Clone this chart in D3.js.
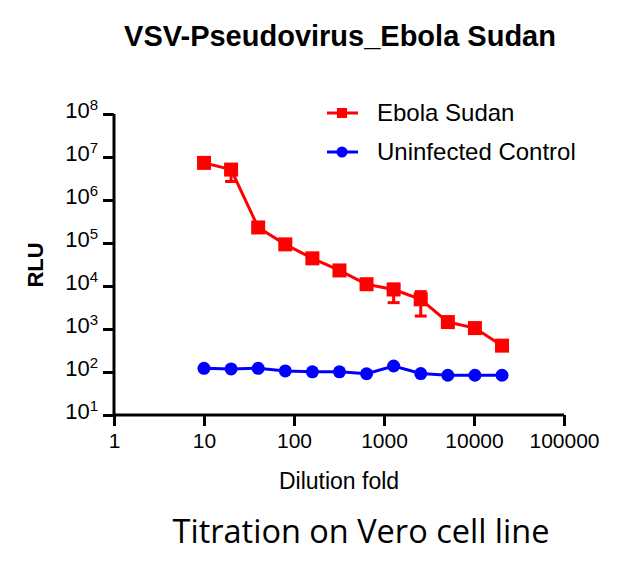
<!DOCTYPE html>
<html>
<head>
<meta charset="utf-8">
<script src="https://cdn.jsdelivr.net/npm/d3@7"></script>
<style>
  html, body { margin: 0; padding: 0; background: #fff; }
  svg { display: block; }
</style>
</head>
<body>
<svg id="chart" width="636" height="577"></svg>
<script>
// ---- data ----
const dilutions = [10, 20, 40, 80, 160, 320, 640, 1280, 2560, 5120, 10240, 20480];
const ebolaSudan = [7300000, 5100000, 230000, 93000, 44000, 23000, 11000, 8300, 4900, 1450, 1050, 410];
const ebolaErrLow = [6600000, 2700000, 210000, 86000, 40000, 21000, 10000, 4100, 2000, 1250, 950, 380];
const ebolaErrHigh = [8000000, 6600000, 250000, 100000, 48000, 25000, 12000, 11000, 7400, 1650, 1150, 440];
const uninfected = [122, 118, 122, 106, 101, 101, 91, 138, 92, 84, 84, 84];
const xTicks = [1, 10, 100, 1000, 10000, 100000];
const yTickExps = [1, 2, 3, 4, 5, 6, 7, 8];
const seriesNames = ["Ebola Sudan", "Uninfected Control"];

const RED = "#ff0000", BLUE = "#0000ff";
const FONT = "'Liberation Sans', Arial, Helvetica, sans-serif";

const svg = d3.select("#chart");

const x = d3.scaleLog().domain([1, 100000]).range([114, 564]);
const y = d3.scaleLog().domain([10, 1e8]).range([415, 114]);

// title
svg.append("text")
  .attr("x", 340).attr("y", 46)
  .attr("text-anchor", "middle")
  .attr("font-family", FONT).attr("font-weight", "bold").attr("font-size", 29)
  .text("VSV-Pseudovirus_Ebola Sudan");

// x axis
const xAxis = svg.append("g")
  .attr("transform", `translate(0,${y(10)})`)
  .call(d3.axisBottom(x).tickValues(xTicks).tickFormat(d3.format("d")).tickSize(11).tickPadding(7));
xAxis.select(".domain").attr("stroke", "#000").attr("stroke-width", 3);
xAxis.selectAll(".tick line").attr("stroke", "#000").attr("stroke-width", 3);
xAxis.selectAll(".tick text").attr("font-family", FONT).attr("font-size", 21).attr("fill", "#000");

// y axis
const yAxis = svg.append("g")
  .attr("transform", `translate(${x(1)},0)`)
  .call(d3.axisLeft(y).tickValues(yTickExps.map(e => Math.pow(10, e))).tickSize(11).tickPadding(5).tickFormat(""));
yAxis.select(".domain").attr("stroke", "#000").attr("stroke-width", 3);
yAxis.selectAll(".tick line").attr("stroke", "#000").attr("stroke-width", 3);
yAxis.selectAll(".tick text").each(function(d) {
  const t = d3.select(this)
    .attr("font-family", FONT).attr("fill", "#000").attr("dy", "0.35em");
  t.append("tspan").attr("font-size", 22).text("10");
  t.append("tspan").attr("font-size", 15).attr("dy", "-0.55em").text(Math.round(Math.log10(d)));
});
xAxis.select(".domain").attr("d", `M${x(1)},0H${x(100000)}`);
yAxis.select(".domain").attr("d", `M0,${y(1e8)}V${y(10)}`);

// axis titles
svg.append("text")
  .attr("x", 339).attr("y", 489)
  .attr("text-anchor", "middle")
  .attr("font-family", FONT).attr("font-size", 23)
  .text("Dilution fold");

svg.append("text")
  .attr("transform", `translate(43,265) rotate(-90)`)
  .attr("text-anchor", "middle")
  .attr("font-family", FONT).attr("font-weight", "bold").attr("font-size", 22)
  .text("RLU");

// lines
const line = d3.line().x(d => x(d[0])).y(d => y(d[1]));
const redData = dilutions.map((d, i) => [d, ebolaSudan[i]]);
const blueData = dilutions.map((d, i) => [d, uninfected[i]]);

// error bars (red)
const eb = svg.append("g").attr("stroke", RED).attr("stroke-width", 3);
dilutions.forEach((d, i) => {
  const cx = x(d);
  eb.append("line").attr("x1", cx).attr("x2", cx).attr("y1", y(ebolaErrLow[i])).attr("y2", y(ebolaErrHigh[i]));
  [ebolaErrLow[i], ebolaErrHigh[i]].forEach(v => {
    eb.append("line").attr("x1", cx - 6).attr("x2", cx + 6).attr("y1", y(v)).attr("y2", y(v));
  });
});

svg.append("path").datum(redData).attr("d", line)
  .attr("fill", "none").attr("stroke", RED).attr("stroke-width", 3);
svg.append("path").datum(blueData).attr("d", line)
  .attr("fill", "none").attr("stroke", BLUE).attr("stroke-width", 3);

const sq = 14;
svg.append("g").selectAll("rect").data(redData).join("rect")
  .attr("x", d => x(d[0]) - sq / 2).attr("y", d => y(d[1]) - sq / 2)
  .attr("width", sq).attr("height", sq).attr("fill", RED);

svg.append("g").selectAll("circle").data(blueData).join("circle")
  .attr("cx", d => x(d[0])).attr("cy", d => y(d[1])).attr("r", 6.5).attr("fill", BLUE);

// legend
const legend = svg.append("g");
[[RED, 113, "rect"], [BLUE, 152, "circle"]].forEach(([c, ly, shape], i) => {
  legend.append("line").attr("x1", 327).attr("x2", 358).attr("y1", ly).attr("y2", ly)
    .attr("stroke", c).attr("stroke-width", 3);
  if (shape === "rect") {
    legend.append("rect").attr("x", 337).attr("y", ly - 5).attr("width", 10).attr("height", 10).attr("fill", c);
  } else {
    legend.append("circle").attr("cx", 342).attr("cy", ly).attr("r", 5.5).attr("fill", c);
  }
  legend.append("text").attr("x", 377).attr("y", ly + 8)
    .attr("font-family", FONT).attr("font-size", 24).text(seriesNames[i]);
});

// footer
svg.append("text")
  .attr("x", 361).attr("y", 543)
  .attr("text-anchor", "middle")
  .attr("font-family", "'Open Sans', 'Noto Sans', sans-serif").attr("font-size", 32.5)
  .text("Titration on Vero cell line");
</script>
</body>
</html>
